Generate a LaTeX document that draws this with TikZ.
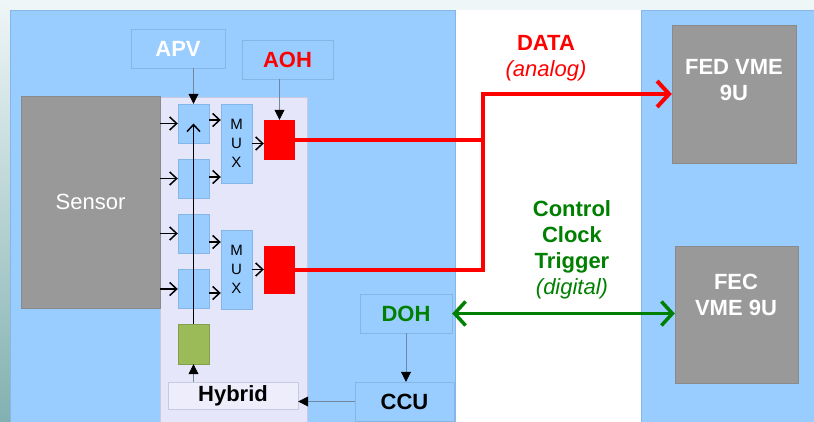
\documentclass[tikz,border=0pt]{standalone}
\usepackage{fontspec}
\setmainfont{Liberation Sans}
\usetikzlibrary{arrows.meta}

\definecolor{panel}{HTML}{99CCFF}
\definecolor{panelline}{HTML}{86B6E6}
\definecolor{hybfill}{HTML}{E6E6FA}
\definecolor{hybline}{HTML}{C9C9E0}
\definecolor{boxgray}{HTML}{999999}
\definecolor{boxgrayline}{HTML}{8A8A8A}
\definecolor{sigred}{HTML}{FF0000}
\definecolor{siggreen}{HTML}{008000}
\definecolor{pacegreen}{HTML}{9BBB59}
\definecolor{thinline}{HTML}{6F87A0}
\definecolor{bgtint}{HTML}{EFF6F7}

\newcommand\labfont{\fontsize{22}{26}\selectfont}
\newcommand\muxfont{\fontsize{15}{19}\selectfont}

\tikzset{
  lblbox/.style={draw=panelline,fill=panel,minimum width=#1,minimum height=39pt,
    inner sep=0pt,font=\labfont\bfseries},
  chip/.style={draw=panelline,fill=panel,minimum width=31pt,minimum height=39pt,inner sep=0pt},
  muxbox/.style={chip,minimum height=79pt,align=center,font=\muxfont},
  optbox/.style={fill=sigred,minimum width=31pt,inner sep=0pt},
  crate/.style={draw=boxgrayline,fill=boxgray,inner sep=0pt},
  feed/.style={thinline,line width=0.8pt,-{Triangle[length=10pt,width=10pt,color=black]}},
  sig/.style={black,line width=1.5pt,-{Straight Barb[length=7pt,width=13pt]}},
  dataline/.style={sigred,line width=4pt},
  ctrlline/.style={siggreen,line width=3.5pt}
}

\begin{document}
\begin{tikzpicture}[x=1pt,y=-1pt]
  \useasboundingbox (0,0) rectangle (814,422);
  % Slide background, the two blue panels and the white gap between them.
  \fill[bgtint] (0,0) rectangle (814,422);
  \shade[top color=bgtint,bottom color=black!35!cyan!40!gray!70] (0,0) rectangle (10,422);
  \fill[white] (455,10) rectangle (641,422);
  \fill[panel] (10,10) rectangle (455,422);
  \draw[panelline,line width=0.6pt] (10,422) -- (10,10) -- (455,10) -- (455,422);
  \fill[panel] (641,10) rectangle (814,422);
  \draw[panelline,line width=0.6pt] (641,422) -- (641,10) -- (814,10);

  % Front-end module: sensor and hybrid.
  \node[draw=hybline,fill=hybfill,minimum width=147pt,minimum height=325pt] (hybarea) at (233.5,259.5) {};
  \node[crate,minimum width=139pt,minimum height=212pt,text=white,font=\labfont] (sensor) at (90.5,202) {Sensor};
  \node[lblbox=94pt,text=white] (apv) at (178,48.5) {APV};
  \node[lblbox=91pt,text=sigred] (aoh) at (287.5,59.5) {AOH};

  % Readout chips, multiplexers and optical hybrids.
  \foreach \i/\y in {1/123.5,2/178.5,3/233.5,4/289}
    \node[chip] (apv\i) at (193.5,\y) {};
  \node[draw=pacegreen!85!black,fill=pacegreen,minimum width=31pt,minimum height=40pt,inner sep=0pt] (grn) at (193.5,344) {};
  \node[muxbox] (mux1) at (236.5,143.5) {M\\U\\X};
  \node[muxbox] (mux2) at (236.5,269.5) {M\\U\\X};
  \node[optbox,minimum height=40pt] (red1) at (279.5,140) {};
  \node[optbox,minimum height=48pt] (red2) at (279.5,270) {};
  \node[draw=hybline,fill=hybfill!70!white,minimum width=130pt,minimum height=27pt,font=\labfont\bfseries] (hyb) at (233,395.5) {Hybrid};
  \node[lblbox=92pt,text=siggreen] (doh) at (406,313.5) {DOH};
  \node[lblbox=99pt] (ccu) at (404.5,401.5) {CCU};

  % Counting room crates.
  \node[crate,minimum width=124pt,minimum height=138pt] (fed) at (734,94) {};
  \node[text=white,font=\labfont\bfseries,align=center] (fedlbl) at (734,80) {FED VME\\9U};
  \node[crate,minimum width=123pt,minimum height=137pt] (fec) at (736.5,314.5) {};
  \node[text=white,font=\labfont\bfseries,align=center] (feclbl) at (736,295) {FEC\\VME 9U};

  % Signal flow on the hybrid.
  \foreach \i in {1,...,4}
    \draw[sig] (apv\i.west -| sensor.east) -- (apv\i.west);
  \foreach \i/\m/\s in {1/1/3.5,2/1/1.5,3/2/-8.5,4/2/-4}
    \draw[sig] ([yshift=\s pt]apv\i.east) -- ([yshift=\s pt]apv\i.east -| mux\m.west);
  \draw[sig] (mux1.east) -- (mux1.east -| red1.west);
  \draw[sig] (mux2.east) -- (mux2.east -| red2.west);
  \draw[sig] (grn.north) -- (apv1.center);

  % Thin control feeds.
  \draw[feed] (apv.south -| apv1.north) -- (apv1.north);
  \draw[feed] (aoh.south -| red1.north) -- (red1.north);
  \draw[feed] (doh.south) -- (doh.south |- ccu.north);
  \draw[feed] (ccu.west) -- (ccu.west -| hyb.east);
  \draw[feed] (hyb.north -| grn.south) -- (grn.south);

  % Analog data to the FED.
  \coordinate (bend) at (483,94);
  \draw[dataline] (red1.east) -- (red1.east -| bend);
  \draw[dataline,-{Straight Barb[length=12pt,width=26pt]}] (red2.east) -| (bend) -- (fed.west);
  \node[text=sigred,font=\labfont,align=center] (datalbl) at (546,58) {\textbf{DATA}\\\textit{(analog)}};

  % Digital control link between DOH and FEC.
  \draw[ctrlline,{Straight Barb[length=11pt,width=24pt]}-{Straight Barb[length=11pt,width=24pt]}] (doh.east) -- (doh.east -| fec.west);
  \node[text=siggreen,font=\labfont,align=center] (ctrllbl) at (572,249.5) {\textbf{Control}\\\textbf{Clock}\\\textbf{Trigger}\\\textit{(digital)}};
\end{tikzpicture}
\end{document}
